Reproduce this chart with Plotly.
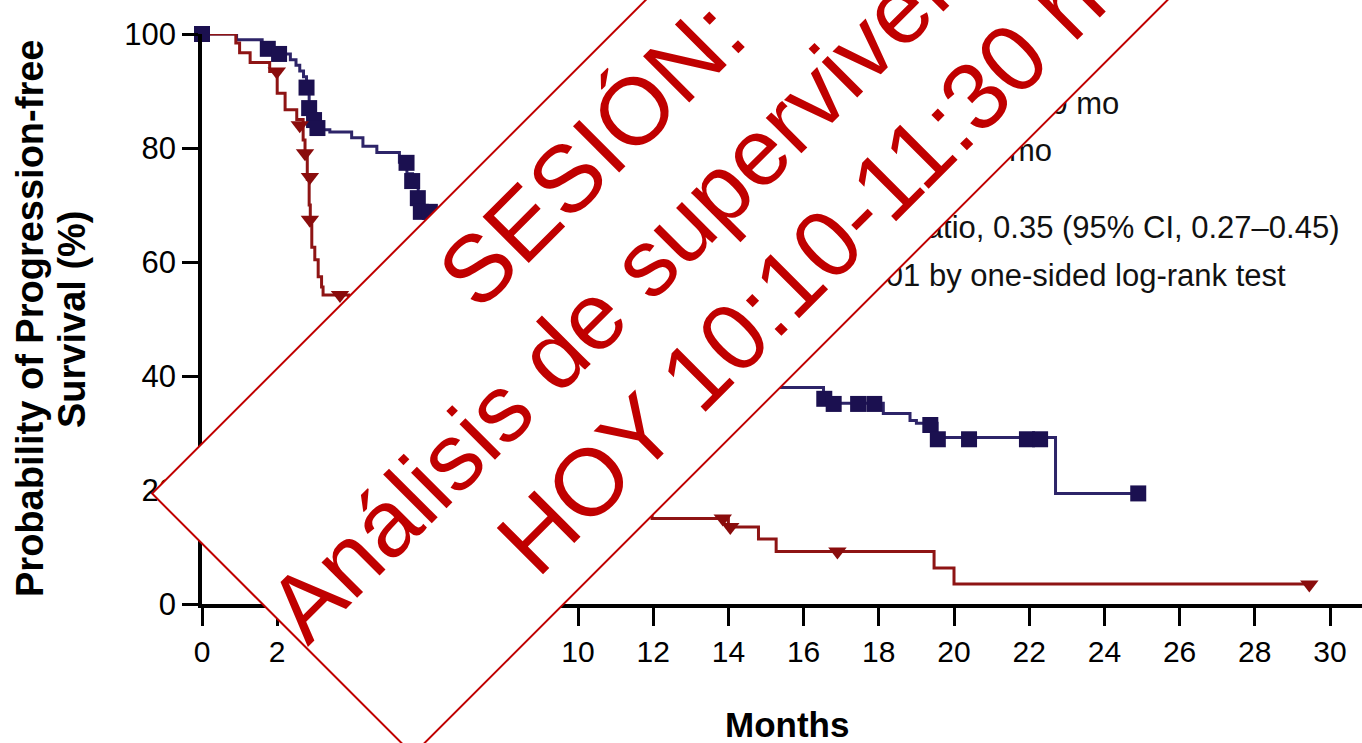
import math
import plotly.graph_objects as go

# ---------------- data ----------------
# Kaplan-Meier steps: at time t (months) survival becomes s (%)
blue_t = [0, 0.92, 1.6, 2.1, 2.35, 2.5, 2.6, 2.7, 2.78, 2.85, 2.95, 3.05, 3.15, 3.4,
          3.98, 4.28, 4.65, 5.25, 5.45, 5.6, 5.75, 5.88, 6.1, 6.6, 7.0, 7.5, 8.0,
          8.5, 9.0, 9.5, 10.2, 11.0, 11.8, 12.6, 13.5, 14.5, 15.2, 16.53, 16.65,
          18.12, 18.83, 19.0, 19.55, 22.70, 24.9]
blue_s = [100, 99.0, 97.3, 96.5, 95.5, 94.5, 93.5, 92.5, 90.5, 88.0, 86.0, 84.3, 83.2, 82.8,
          81.8, 80.3, 79.2, 77.5, 75.5, 73.5, 71.5, 69.5, 68.5, 66, 63, 60, 57,
          54, 51, 48.5, 46, 44, 42, 40.5, 39.5, 38.6, 38.0, 36.7, 35.2,
          33.4, 32.2, 31.7, 29.2, 19.4, 19.4]
blue_cens_t = [0, 1.75, 2.05, 2.78, 2.85, 2.98, 3.07, 5.44, 5.59, 5.74, 5.82, 6.06,
               16.55, 16.8, 17.45, 17.88, 19.37, 19.57, 20.4, 21.94, 22.29, 24.9]
blue_cens_s = [100, 97.4, 96.5, 90.6, 87.0, 84.9, 83.5, 77.4, 74.2, 71.2, 68.8, 68.8,
               36.0, 35.1, 35.1, 35.1, 31.4, 28.9, 28.9, 28.9, 28.9, 19.4]

red_t = [0, 0.9, 1.0, 1.28, 1.8, 2.0, 2.21, 2.52, 2.69, 2.74, 2.8, 2.85, 2.88, 2.92,
         3.0, 3.09, 3.18, 3.22, 3.9, 4.3, 4.6, 5.0, 5.5, 6.0, 6.6, 7.2, 8.0, 8.8,
         9.6, 10.5, 11.2, 11.97, 14.0, 14.8, 15.27, 19.47, 20.0, 29.45]
red_s = [100, 98.4, 96.7, 95.0, 93.4, 89.6, 86.7, 85.0, 81.4, 78.5, 74.5, 70.0, 66.5, 62.6,
         60.4, 57.4, 55.6, 54.2, 50, 46, 42, 38, 34, 30, 27, 24.5, 22.5, 20.5,
         19, 18, 17, 15.0, 13.5, 11.4, 9.2, 6.3, 3.5, 3.5]
red_cens_t = [1.99, 2.6, 2.74, 2.87, 2.87, 3.67, 13.85, 14.05, 16.9, 29.45]
red_cens_s = [93.4, 84.0, 79.1, 74.9, 67.4, 54.2, 15.0, 13.5, 9.2, 3.4]

x_ticks = list(range(0, 31, 2))
y_ticks = [0, 20, 40, 60, 80, 100]

legend_lines = ["Everolimus, 11.0 mo",
                "Placebo, 4.6 mo",
                "Hazard ratio, 0.35 (95% CI, 0.27–0.45)",
                "P&lt;0.001 by one-sided log-rank test"]
banner_lines = ["SESIÓN:", "Análisis de supervivencia", "HOY 10:10-11:30 h"]

x_title = "Months"
y_title_lines = ["Probability of Progression-free", "Survival (%)"]

# ---------------- layout geometry ----------------
W, H = 1362, 743
ML, MR, MT, MB = 202, 0, 34, 139
PW, PH = W - ML - MR, H - MT - MB
PX_PER_MONTH = 37.6
X_MAX = PW / PX_PER_MONTH


def px(x, y):
    """pixel position -> paper coordinates"""
    return (x - ML) / PW, (H - MB - y) / PH


SANS = "Liberation Sans, Arial, Helvetica, sans-serif"
BLUE_LINE, BLUE_MK = "#2d2468", "#1b1050"
RED_LINE, RED_MK = "#8e1414", "#8a0c0c"
BANNER = "#c00000"

fig = go.Figure()
fig.add_trace(go.Scatter(x=blue_t, y=blue_s, mode="lines", line=dict(color=BLUE_LINE, width=3, shape="hv"),
                         cliponaxis=False, showlegend=False, hoverinfo="skip"))
fig.add_trace(go.Scatter(x=red_t, y=red_s, mode="lines", line=dict(color=RED_LINE, width=3, shape="hv"),
                         cliponaxis=False, showlegend=False, hoverinfo="skip"))
fig.add_trace(go.Scatter(x=blue_cens_t, y=blue_cens_s, mode="markers",
                         marker=dict(symbol="square", size=16, color=BLUE_MK, line=dict(width=0)),
                         cliponaxis=False, showlegend=False))
fig.add_trace(go.Scatter(x=red_cens_t, y=red_cens_s, mode="markers",
                         marker=dict(symbol="triangle-down", size=16, color=RED_MK, line=dict(width=0)),
                         cliponaxis=False, showlegend=False))

annotations = []
# legend text (right-anchored at their visible ends)
for txt, (xr, yc) in zip(legend_lines, [(1121, 103), (1054, 150), (1341, 228), (1288, 275)]):
    ax, ay = px(xr, yc)
    annotations.append(dict(text=txt, x=ax, y=ay, xref="paper", yref="paper", xanchor="right",
                            yanchor="middle", showarrow=False, font=dict(family=SANS, size=31, color="#111")))

# axis titles
ax, ay = px(787, 724)
annotations.append(dict(text="<b>%s</b>" % x_title, x=ax, y=ay, xref="paper", yref="paper", xanchor="center",
                        yanchor="middle", showarrow=False, font=dict(family=SANS, size=35, color="#000")))
for txt, xc in zip(y_title_lines, [30, 72]):
    ax, ay = px(xc, 319)
    annotations.append(dict(text="<b>%s</b>" % txt, x=ax, y=ay, xref="paper", yref="paper", xanchor="center",
                            yanchor="middle", textangle=-90, showarrow=False,
                            font=dict(family=SANS, size=38, color="#000")))

# banner box (rotated 45 degrees)
S2 = math.sqrt(2)


def uv2xy(u, v):
    return (u + v) / S2, (v - u) / S2


u_left, u_right = -241.1, 900.0
v_mid, thick = 640.6, 369.0
bx, by = uv2xy((u_left + u_right) / 2, v_mid)
ax, ay = px(bx, by)
annotations.append(dict(text="\u00a0", x=ax, y=ay, xref="paper", yref="paper", xanchor="center",
                        yanchor="middle", textangle=-45, showarrow=False,
                        width=u_right - u_left - 2, height=thick - 2, borderpad=0,
                        bgcolor="white", bordercolor=BANNER, borderwidth=2,
                        font=dict(family=SANS, size=20, color=BANNER)))
for txt, (u, v) in zip(banner_lines, [(309.0, 527.0), (293.0, 642.0), (375.0, 757.5)]):
    cx, cy = uv2xy(u, v)
    ax, ay = px(cx, cy)
    annotations.append(dict(text=txt, x=ax, y=ay, xref="paper", yref="paper", xanchor="center",
                            yanchor="middle", textangle=-45, showarrow=False,
                            font=dict(family=SANS, size=95, color=BANNER)))

fig.update_layout(
    width=W, height=H, margin=dict(l=ML, r=MR, t=MT, b=MB, pad=0),
    paper_bgcolor="white", plot_bgcolor="white",
    xaxis=dict(range=[0, X_MAX], tickmode="array", tickvals=x_ticks, ticktext=[str(v) for v in x_ticks],
               showgrid=False, zeroline=False, showline=True, linecolor="black", linewidth=3.5,
               ticks="outside", ticklen=18, tickwidth=3, tickcolor="black",
               tickfont=dict(family=SANS, size=30, color="#000")),
    yaxis=dict(range=[0, 100], tickmode="array", tickvals=y_ticks, ticktext=[str(v) for v in y_ticks],
               showgrid=False, zeroline=False, showline=True, linecolor="black", linewidth=3.5,
               ticks="outside", ticklen=16, tickwidth=3, tickcolor="black",
               tickfont=dict(family=SANS, size=31, color="#000")),
    annotations=annotations,
    showlegend=False,
)

fig.write_html("out.html", config={"displayModeBar": False},
               post_script="document.body.style.margin='0px';")
